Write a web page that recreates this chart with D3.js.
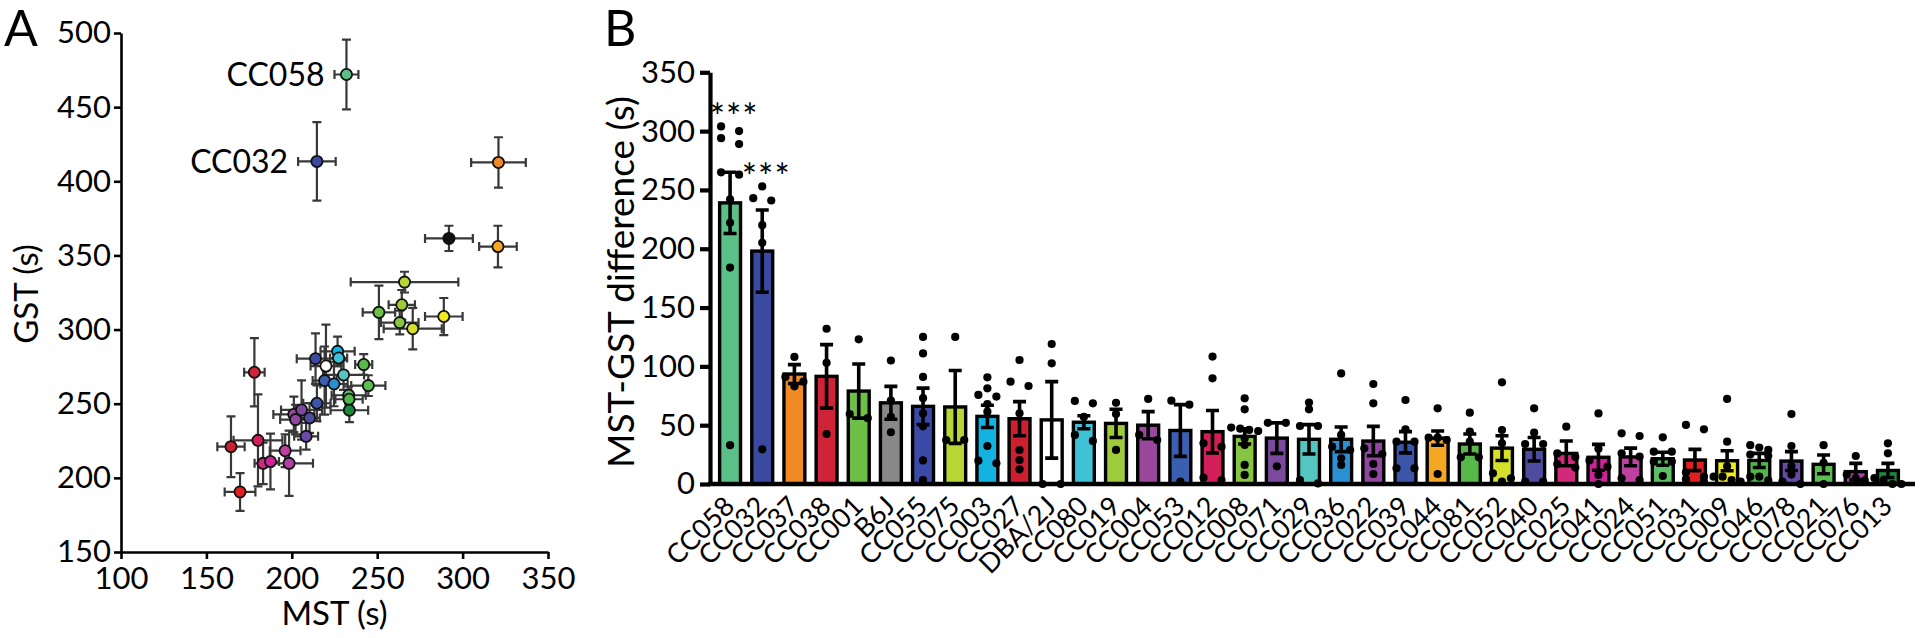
<!DOCTYPE html>
<html>
<head>
<meta charset="utf-8">
<script src="https://d3js.org/d3.v7.min.js"></script>
<style>
body { margin: 0; background: #fff; }
svg text { font-family: Lato, sans-serif; fill: #000; }
</style>
</head>
<body>
<svg id="fig" width="1920" height="638"></svg>
<script>
// strains, in the bar order of panel B
const strains = ["CC058","CC032","CC037","CC038","CC001","B6J","CC055","CC075","CC003","CC027",
  "DBA/2J","CC080","CC019","CC004","CC053","CC012","CC008","CC071","CC029","CC036",
  "CC022","CC039","CC044","CC081","CC052","CC040","CC025","CC041","CC024","CC051",
  "CC031","CC009","CC046","CC078","CC021","CC076","CC013"];
const strainColors = ["#5bbf88","#3a4aa0","#f08a24","#cf2338","#6dbf45","#888888","#3b4aa6","#b8d536","#14b2e0","#cc1f2f",
  "#ffffff","#3fc1d6","#9dcb3c","#9a489c","#3a5fb0","#d21f5a","#86c540","#7b4a9e","#55c5c0","#2a90d2",
  "#9146a0","#3b55a8","#f5a623","#58b94b","#d6e02a","#4e4c9e","#d12a7a","#d0209a","#c040a0","#5cc065",
  "#e02020","#f2ec1a","#50b848","#6a4aa8","#5cc050","#b040a8","#1a8a3a"];

// panel B: MST-GST difference (s), mean and SEM
const diffMean = [239,198,93.5,91.5,79,69,66,65.5,57.5,55.5,
  54.5,52.5,51.5,50,45.5,44.5,40.5,39,38,38,
  36.5,35.5,39,34,30.5,29.5,26,22.7,23,21.5,
  20.4,19.8,20,19.5,16.7,10.5,11.5];
const diffSem = [26,35,8,27,23,14,15.5,31,9.5,14.5,
  32.5,5.5,12,11.5,22,18,6.5,13,12.5,10.5,
  12.5,9,6,8.5,10.5,10,10.5,11,7.5,5.5,
  9,8.5,6,8,8,7,6];
// individual animals
const diffPoints = [
  [304,300,294,289,265,263,242,222,184,33],
  [253,243,241,220,205,29.5],
  [108,91,87,83],
  [132,103,42.5],
  [123,59.5,56],
  [105,71,57,44],
  [125,111,91,73,60,49,20,3.4],
  [125,37.4,37.4],
  [90.7,81.3,75.7,74.3,68,61.5,32.3,19.8,17.6],
  [105.4,87,83.3,60.1,28.9,20.4,12.5],
  [119,102.6,0,0],
  [70.6,68.6,57,41.7,36.6],
  [69,59.5,29],
  [72.3,41.7,37.4],
  [70.8,67.4,2],
  [108.3,89.8,34.6,31.7,5.4,3.4],
  [72.8,63.5,48,47,46,45,38.8,33.2,16.2,7.7],
  [52,52,15],
  [69.2,63.5,49.3,49.3,3.4,0.5],
  [94,41.7,31.7,28.9,21.8,16.2],
  [85,68.6,30.3,25.5,17,8.5],
  [71.4,46.5,36,36,13.3,13.3],
  [64.3,39.4,39.4,37.4,8.5],
  [60.6,44.5,36,22.7,22.7],
  [86.4,45.9,34.6,9.1,4.8,2],
  [64.3,43.6,34,34,2,2],
  [48.7,26,23,17,14],
  [60,30,20,14.7,7.7,0],
  [43.1,40.8,26.1,23.2,4.8,3.4],
  [39.7,27.5,27.5,19,19,6.8],
  [50.2,46.5,10,6.2,4,2],
  [72.3,36,15,6.2,6.2,3.4,2],
  [33,31,29,25,24,6.2,6.2,3],
  [59.5,32.3,15,8,2,0],
  [33,18,0],
  [23.8,8,5,3],
  [34.6,26.1,5,3,0,0]
];
const signif = ["***","***"];   // first two strains

// panel A: MST and GST means with SEM, same strain order
const mstMean = [232,214.7,321,178.1,251,292,213.9,266,226.8,164.4,
  220,227.4,264.4,201.2,219.2,180.2,263.2,205.7,230.3,224.7,
  202.2,214.7,320.7,242.1,270.8,210.4,183.2,187.5,196.1,233.3,
  169.7,289,233.5,208.4,244.8,198.4,233.7];
const gstMean = [472,413.4,412.7,271.2,311.6,361.5,280.4,332,285.3,221,
  275.4,280.8,316.7,242.8,265.6,225.3,304.7,245.8,269.4,263.3,
  239.3,250.3,356,276.4,300.6,240.4,209.8,211,218.3,255.7,
  190.5,308.8,253,228,262.2,209.8,245.6];
const mstSem = [7,11,16,6,9.5,14,11,31.5,10,8,
  9,5,7.7,12,7,14.3,11,12,12,8,
  9,8,11,5,17,6,5,5,9,10,
  9,11,8,7,10,14,11];
const gstSem = [23.5,26.5,17,23,18,8.5,17,7,10,20.5,
  28,5,10,12,23,31,8,20,10,15,
  10,12,14,7,14,10,14,18.8,11,6,
  12.7,12.5,5,9,7,22,8];
const scatterColorOverride = {"B6J": "#111111"};
const labelledStrains = ["CC058","CC032"];

const ticksA_x = [100,150,200,250,300,350];
const ticksA_y = [150,200,250,300,350,400,450,500];
const ticksB_y = [0,50,100,150,200,250,300,350];

const svg = d3.select("#fig");
const tickFont = 31;

function styleAxis(g, w, fs) {
  g.select(".domain").attr("stroke", "#000").attr("stroke-width", w);
  g.selectAll(".tick line").attr("stroke", "#000").attr("stroke-width", w);
  g.selectAll(".tick text").attr("font-size", fs).attr("font-family", "Lato, sans-serif").attr("fill", "#000");
}

// ---------- panel A ----------
const xA = d3.scaleLinear().domain([100,350]).range([121,548]);
const yA = d3.scaleLinear().domain([150,500]).range([552,33]);

const gA = svg.append("g");
gA.append("g")
  .attr("transform", "translate(0," + yA(150) + ")")
  .call(d3.axisBottom(xA).tickValues(ticksA_x).tickSize(7).tickSizeOuter(0).tickPadding(8))
  .call(styleAxis, 2.6, tickFont);
gA.append("g")
  .attr("transform", "translate(" + xA(100) + ",0)")
  .call(d3.axisLeft(yA).tickValues(ticksA_y).tickSize(7).tickSizeOuter(0).tickPadding(3))
  .call(styleAxis, 2.6, tickFont);

const errCol = "#383838", cap = 4.5;
const eb = gA.append("g").attr("stroke", errCol).attr("stroke-width", 2.2).attr("fill", "none");
strains.forEach((s, i) => {
  const cx = xA(mstMean[i]), cy = yA(gstMean[i]);
  const x0 = xA(mstMean[i] - mstSem[i]), x1 = xA(mstMean[i] + mstSem[i]);
  const y0 = yA(gstMean[i] - gstSem[i]), y1 = yA(gstMean[i] + gstSem[i]);
  eb.append("path").attr("d",
    "M" + x0 + "," + cy + "H" + x1 +
    "M" + x0 + "," + (cy - cap) + "V" + (cy + cap) +
    "M" + x1 + "," + (cy - cap) + "V" + (cy + cap) +
    "M" + cx + "," + y0 + "V" + y1 +
    "M" + (cx - cap) + "," + y0 + "H" + (cx + cap) +
    "M" + (cx - cap) + "," + y1 + "H" + (cx + cap));
});
gA.append("g").selectAll("circle").data(strains).join("circle")
  .attr("cx", (d, i) => xA(mstMean[i]))
  .attr("cy", (d, i) => yA(gstMean[i]))
  .attr("r", 5.6)
  .attr("fill", (d, i) => scatterColorOverride[d] || strainColors[i])
  .attr("stroke", "#111").attr("stroke-width", 1.8);

labelledStrains.forEach(s => {
  const i = strains.indexOf(s);
  gA.append("text")
    .attr("x", xA(mstMean[i] - mstSem[i]) - 10)
    .attr("y", yA(gstMean[i]))
    .attr("dy", "0.36em")
    .attr("text-anchor", "end")
    .attr("font-size", 32)
    .text(s);
});

gA.append("text").attr("x", (xA.range()[0] + xA.range()[1]) / 2).attr("y", 625).attr("text-anchor", "middle")
  .attr("font-size", 33).text("MST (s)");
gA.append("text").attr("transform", "translate(38,294) rotate(-90)").attr("text-anchor", "middle")
  .attr("font-size", 33).text("GST (s)");
svg.append("text").attr("x", 4).attr("y", 46).attr("font-size", 50).text("A");

// ---------- panel B ----------
const xB = d3.scaleBand().domain(strains).range([714,1904]).paddingInner(0.25).paddingOuter(0.125);
const yB = d3.scaleLinear().domain([0,350]).range([484,72.3]);
const gB = svg.append("g");
const bw = xB.bandwidth();

gB.append("g").selectAll("rect").data(strains).join("rect")
  .attr("x", d => xB(d) + 1.6)
  .attr("y", (d, i) => yB(diffMean[i]))
  .attr("width", bw - 3.2)
  .attr("height", (d, i) => yB(0) - yB(diffMean[i]))
  .attr("fill", (d, i) => strainColors[i])
  .attr("stroke", "#000").attr("stroke-width", 3.4);

// SEM bars
const ebB = gB.append("g").attr("stroke", "#000").attr("stroke-width", 3.6).attr("fill", "none");
strains.forEach((s, i) => {
  const cx = xB(s) + bw / 2;
  const y0 = yB(Math.max(0, diffMean[i] - diffSem[i])), y1 = yB(diffMean[i] + diffSem[i]);
  ebB.append("path").attr("d",
    "M" + cx + "," + y0 + "V" + y1 +
    "M" + (cx - 6.5) + "," + y0 + "H" + (cx + 6.5) +
    "M" + (cx - 6.5) + "," + y1 + "H" + (cx + 6.5));
});

// dots, spread sideways where they would overlap
function swarm(vals) {
  const sorted = vals.map(v => ({ v: v, py: yB(v) })).sort((a, b) => a.py - b.py);
  const out = []; let grp = [];
  const flush = () => {
    const n = grp.length, sp = n === 2 ? 18 : 9;
    grp.forEach((d, k) => out.push({ py: d.py, dx: (k - (n - 1) / 2) * sp }));
    grp = [];
  };
  sorted.forEach(d => { if (grp.length && d.py - grp[0].py > 6.5) flush(); grp.push(d); });
  flush();
  return out;
}
const dotG = gB.append("g").attr("fill", "#000");
strains.forEach((s, i) => {
  const cx = xB(s) + bw / 2;
  swarm(diffPoints[i]).forEach(p => {
    dotG.append("circle").attr("cx", cx + p.dx).attr("cy", p.py).attr("r", 4.1);
  });
});

signif.forEach((t, i) => {
  const s = strains[i];
  gB.append("text")
    .attr("x", xB(s) + bw / 2 + 4)
    .attr("y", yB(d3.max(diffPoints[i])) + 4)
    .attr("text-anchor", "middle")
    .attr("font-size", 36)
    .attr("letter-spacing", 1)
    .text(t);
});

// axes
gB.append("g")
  .attr("transform", "translate(710,0)")
  .call(d3.axisLeft(yB).tickValues(ticksB_y).tickSize(10).tickSizeOuter(0).tickPadding(5))
  .call(styleAxis, 4.2, tickFont);
gB.append("line")
  .attr("x1", 708).attr("x2", xB.range()[1] + 11)
  .attr("y1", yB(0)).attr("y2", yB(0))
  .attr("stroke", "#000").attr("stroke-width", 4.5);

gB.append("g").selectAll("text").data(strains).join("text")
  .attr("transform", d => "translate(" + (xB(d) + bw / 2 + 6) + "," + (yB(0) + 24) + ") rotate(-45)")
  .attr("text-anchor", "end")
  .attr("font-size", 27)
  .text(d => d);

gB.append("text").attr("transform", "translate(634,282) rotate(-90)").attr("text-anchor", "middle")
  .attr("font-size", 37).text("MST-GST difference (s)");
svg.append("text").attr("x", 604).attr("y", 46).attr("font-size", 50).text("B");
</script>
</body>
</html>
